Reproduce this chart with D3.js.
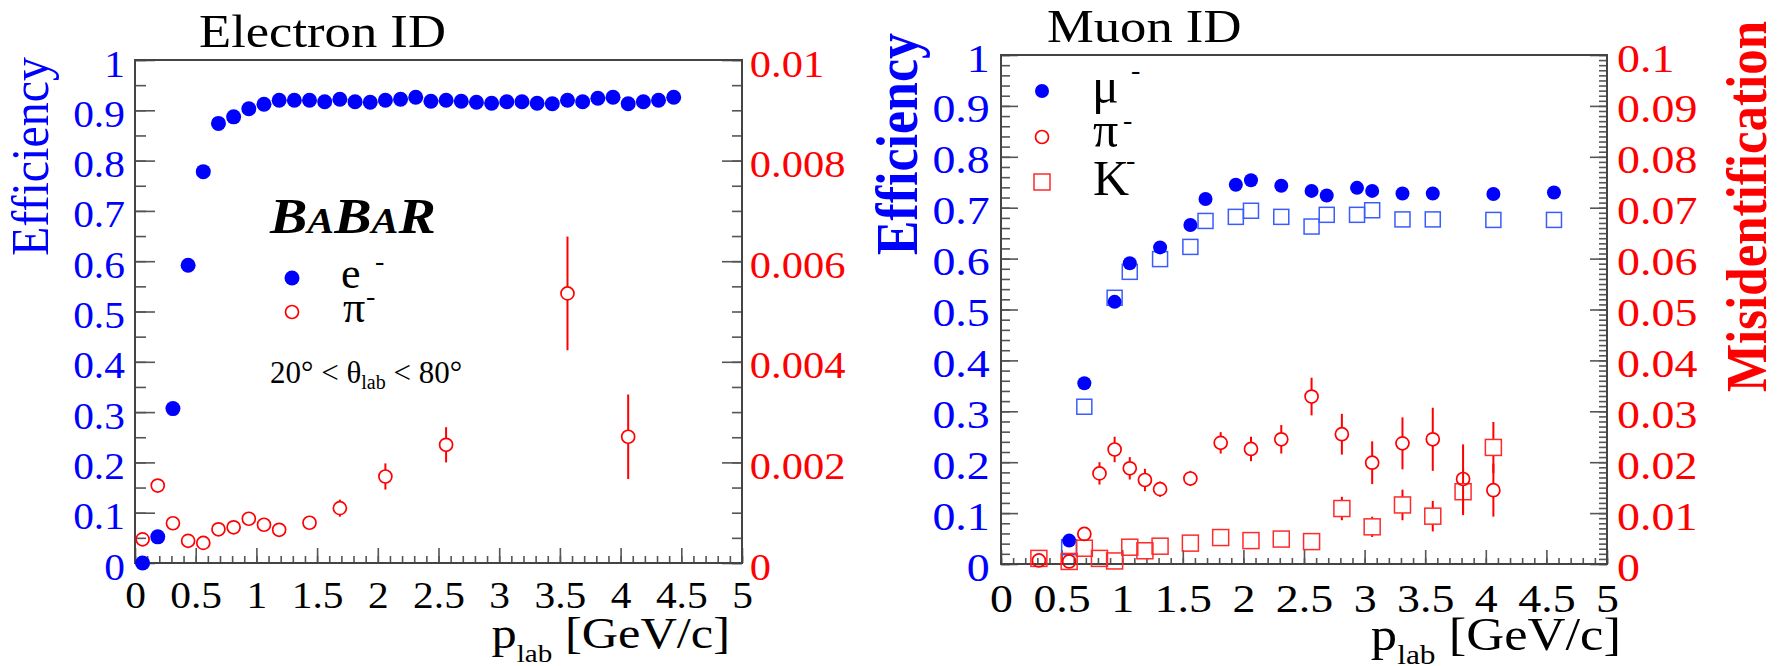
<!DOCTYPE html>
<html>
<head>
<meta charset="utf-8">
<script src="https://cdnjs.cloudflare.com/ajax/libs/d3/7.8.5/d3.min.js"></script>
<style>
    html, body { margin: 0; padding: 0; background: #fff; }
    svg { display: block; }
    text { font-family: "Liberation Serif", "DejaVu Serif", serif; }
</style>
</head>
<body>
<svg id="chart" width="1781" height="666"></svg>
<script>
"use strict";

// ---------- electron ID panel ----------
var eleP = [0.0625, 0.1875, 0.3125, 0.4375, 0.5625, 0.6875, 0.8125, 0.9375, 1.0625, 1.1875,
            1.3125, 1.4375, 1.5625, 1.6875, 1.8125, 1.9375, 2.0625, 2.1875, 2.3125, 2.4375,
            2.5625, 2.6875, 2.8125, 2.9375, 3.0625, 3.1875, 3.3125, 3.4375, 3.5625, 3.6875,
            3.8125, 3.9375, 4.0625, 4.1875, 4.3125, 4.4375];
var eleEff = [0.000, 0.052, 0.307, 0.592, 0.778, 0.874, 0.887, 0.903, 0.912, 0.920,
              0.920, 0.920, 0.917, 0.922, 0.917, 0.916, 0.920, 0.922, 0.926, 0.918,
              0.920, 0.918, 0.916, 0.914, 0.917, 0.917, 0.914, 0.913, 0.920, 0.917,
              0.924, 0.926, 0.913, 0.917, 0.920, 0.926];

var piEleP   = [0.0625, 0.1875, 0.3125, 0.4375, 0.5625, 0.6875, 0.8125, 0.9375, 1.0625, 1.1875,
                1.4375, 1.6875, 2.0625, 2.5625, 3.5625, 4.0625];
var piEleMis = [0.00047, 0.00154, 0.00079, 0.00044, 0.00040, 0.00067, 0.00071, 0.00088, 0.00076, 0.00066,
                0.00080, 0.00109, 0.00172, 0.00235, 0.00536, 0.00251];
var piEleErr = [0.00005, 0.00006, 0.00005, 0.00005, 0.00005, 0.00005, 0.00006, 0.00006, 0.00006, 0.00007,
                0.00008, 0.00017, 0.00026, 0.00035, 0.00113, 0.00084];

// ---------- muon ID panel ----------
var muP      = [0.5625, 0.6875, 0.9375, 1.0625, 1.3125, 1.5625, 1.6875, 1.9375, 2.0625, 2.3125,
                2.5625, 2.6875, 2.9375, 3.0625, 3.3125, 3.5625, 4.0625, 4.5625];
var muEff    = [0.046, 0.355, 0.515, 0.591, 0.622, 0.666, 0.717, 0.745, 0.754, 0.743,
                0.733, 0.724, 0.739, 0.733, 0.728, 0.728, 0.727, 0.730];
var muEffBox = [0.033, 0.309, 0.523, 0.574, 0.599, 0.623, 0.674, 0.682, 0.694, 0.682,
                0.663, 0.686, 0.686, 0.695, 0.677, 0.677, 0.676, 0.676];

var piMuP   = [0.3125, 0.5625, 0.6875, 0.8125, 0.9375, 1.0625, 1.1875, 1.3125, 1.5625, 1.8125,
               2.0625, 2.3125, 2.5625, 2.8125, 3.0625, 3.3125, 3.5625, 3.8125, 4.0625];
var piMuMis = [0.0007, 0.0005, 0.0059, 0.0178, 0.0225, 0.0188, 0.0165, 0.0147, 0.0168, 0.0238,
               0.0226, 0.0245, 0.0329, 0.0255, 0.0199, 0.0237, 0.0245, 0.0167, 0.0145];
var piMuErr = [0.0003, 0.0003, 0.0008, 0.0022, 0.0025, 0.0022, 0.0022, 0.0015, 0.0015, 0.0021,
               0.0024, 0.0028, 0.0037, 0.0040, 0.0042, 0.0051, 0.0062, 0.0068, 0.0052];

var kMuP   = [0.3125, 0.5625, 0.6875, 0.8125, 0.9375, 1.0625, 1.1875, 1.3125, 1.5625, 1.8125,
              2.0625, 2.3125, 2.5625, 2.8125, 3.0625, 3.3125, 3.5625, 3.8125, 4.0625];
var kMuMis = [0.0011, 0.0005, 0.0031, 0.0011, 0.0006, 0.0033, 0.0026, 0.0035, 0.0041, 0.0052,
              0.0046, 0.0049, 0.0044, 0.0109, 0.0073, 0.0116, 0.0094, 0.0142, 0.0229];
var kMuErr = [0.0003, 0.0003, 0.0005, 0.0004, 0.0004, 0.0006, 0.0006, 0.0006, 0.0007, 0.0008,
              0.0008, 0.0009, 0.0009, 0.0023, 0.0020, 0.0030, 0.0030, 0.0046, 0.0050];

// ---------- tick labels ----------
var pTickLabels   = ["0", "0.5", "1", "1.5", "2", "2.5", "3", "3.5", "4", "4.5", "5"];
var effTickLabels = ["0", "0.1", "0.2", "0.3", "0.4", "0.5", "0.6", "0.7", "0.8", "0.9", "1"];
var misEleLabels  = ["0", "0.002", "0.004", "0.006", "0.008", "0.01"];
var misMuLabels   = ["0", "0.01", "0.02", "0.03", "0.04", "0.05", "0.06", "0.07", "0.08", "0.09", "0.1"];

var BLUE = "#0000ff", RED = "#ff0000", FRAME = "#444", TICK = "#555";
var SX = 1.12; // the original picture is a bit wider than tall

var svg = d3.select("#chart");

function styleAxis(sel, color, size, dy) {
    sel.attr("font-family", null).attr("font-size", null);
    sel.select(".domain").remove();
    sel.selectAll("line").attr("stroke", TICK).attr("stroke-width", 1.6);
    if (color === null) {
        sel.selectAll("text").remove(); // minor ticks carry no labels
        return sel;
    }
    sel.selectAll("text")
        .attr("fill", color)
        .attr("font-size", size)
        .attr("transform", "scale(" + SX + ",1)");
    if (dy !== null) {
        sel.selectAll("text").attr("dy", dy);
    }
    return sel;
}

function addAxis(g, axis, tx, ty) {
    return g.append("g").attr("transform", "translate(" + tx + "," + ty + ")").call(axis);
}

function drawPanel(o) {
    var g = svg.append("g");
    var x0 = o.x.range()[0], x1 = o.x.range()[1];
    var yb = o.yEff.range()[0], yt = o.yEff.range()[1];

    // minor ticks first
    styleAxis(addAxis(g, d3.axisBottom(o.x).tickValues(d3.range(0, 5.0001, 0.1)).tickSize(-o.len.xMin), 0, yb), null);
    styleAxis(addAxis(g, d3.axisLeft(o.yEff).tickValues(d3.range(0, 1.0001, o.effMinor)).tickSize(-o.len.lMin), x0, 0), null);
    styleAxis(addAxis(g, d3.axisRight(o.yMis).tickValues(d3.range(0, o.yMis.domain()[1] * 1.0001, o.misMinor)).tickSize(-o.len.rMin), x1, 0), null);

    // major ticks + labels
    styleAxis(addAxis(g, d3.axisBottom(o.x)
        .tickValues(pTickLabels.map(Number))
        .tickFormat(function(d, i) { return pTickLabels[i]; })
        .tickSize(-o.len.xMaj).tickPadding(o.xPad), 0, yb), "#000", o.tickFont, null);

    styleAxis(addAxis(g, d3.axisLeft(o.yEff)
        .tickValues(effTickLabels.map(Number))
        .tickFormat(function(d, i) { return effTickLabels[i]; })
        .tickSize(-o.len.lMaj).tickPadding(o.lPad), x0, 0), BLUE, o.tickFont, 16);

    styleAxis(addAxis(g, d3.axisRight(o.yMis)
        .tickValues(o.misLabels.map(Number))
        .tickFormat(function(d, i) { return o.misLabels[i]; })
        .tickSize(-o.len.rMaj).tickPadding(o.rPad), x1, 0), RED, o.misFont, 16);

    // frame (no ticks on top)
    g.append("rect")
        .attr("x", x0).attr("y", yt)
        .attr("width", x1 - x0).attr("height", yb - yt)
        .attr("fill", "none").attr("stroke", FRAME).attr("stroke-width", 2);

    return g;
}

function errorBars(g, xs, vals, errs, x, y, r, color) {
    var segs = [];
    xs.forEach(function(p, i) {
        var cy = y(vals[i]);
        var top = y(vals[i] + errs[i]);
        var bot = y(Math.max(0, vals[i] - errs[i]));
        if (cy - top > r) { segs.push({ x: x(p), a: top, b: cy - r }); }
        if (bot - cy > r) { segs.push({ x: x(p), a: cy + r, b: bot }); }
    });
    g.append("g").selectAll("line").data(segs).join("line")
        .attr("x1", function(d) { return d.x; }).attr("x2", function(d) { return d.x; })
        .attr("y1", function(d) { return d.a; }).attr("y2", function(d) { return d.b; })
        .attr("stroke", color).attr("stroke-width", 2);
}

function dots(g, xs, vals, x, y, r, color) {
    g.append("g").selectAll("circle").data(xs).join("circle")
        .attr("cx", function(d) { return x(d); })
        .attr("cy", function(d, i) { return y(vals[i]); })
        .attr("r", r).attr("fill", color);
}

function rings(g, xs, vals, x, y, r, color) {
    g.append("g").selectAll("circle").data(xs).join("circle")
        .attr("cx", function(d) { return x(d); })
        .attr("cy", function(d, i) { return y(vals[i]); })
        .attr("r", r).attr("fill", "none").attr("stroke", color).attr("stroke-width", 1.7);
}

function boxes(g, xs, vals, x, y, s, color) {
    g.append("g").selectAll("rect").data(xs).join("rect")
        .attr("x", function(d) { return x(d) - s / 2; })
        .attr("y", function(d, i) { return y(vals[i]) - s / 2; })
        .attr("width", s).attr("height", s)
        .attr("fill", "none").attr("stroke", color).attr("stroke-width", 1.5);
}

function label(x, y, str, size, color, opts) {
    opts = opts || {};
    var t = svg.append("text")
        .attr("transform", "translate(" + x + "," + y + ") scale(" + (opts.sx || 1) + ",1)" + (opts.rot ? " rotate(" + opts.rot + ")" : ""))
        .attr("font-size", size)
        .attr("fill", color)
        .attr("text-anchor", opts.anchor || "start");
    if (opts.bold) { t.attr("font-weight", "bold"); }
    if (opts.italic) { t.attr("font-style", "italic"); }
    if (str !== null) { t.text(str); }
    return t;
}

function pLabel(x, y, size, subSize) {
    var t = label(x, y, null, size, "#000", { sx: SX, anchor: "end" });
    t.append("tspan").text("p");
    t.append("tspan").attr("font-size", subSize).attr("dy", 14).text("lab");
    t.append("tspan").attr("dy", -14).text(" [GeV/c]");
}

// ---------- left: electron ID ----------
var xE = d3.scaleLinear().domain([0, 5]).range([135, 742]);
var yE = d3.scaleLinear().domain([0, 1]).range([563, 60]);
var yEm = d3.scaleLinear().domain([0, 0.01]).range([563, 60]);

var gE = drawPanel({
    x: xE, yEff: yE, yMis: yEm, misLabels: misEleLabels,
    effMinor: 0.05, misMinor: 0.0005,
    len: { xMaj: 15, xMin: 7, lMaj: 20, lMin: 11, rMaj: 20, rMin: 10 },
    xPad: 19, lPad: 9, rPad: 7, tickFont: 37, misFont: 38
});

errorBars(gE, piEleP, piEleMis, piEleErr, xE, yEm, 6.5, RED);
rings(gE, piEleP, piEleMis, xE, yEm, 6.5, RED);
dots(gE, eleP, eleEff, xE, yE, 7.5, BLUE);

label(199, 47, "Electron ID", 47, "#000", { sx: SX });
label(48, 57, "Efficiency", 48, BLUE, { sx: SX, rot: -90, anchor: "end" });
pLabel(730, 648, 45, 26);

var babar = label(270, 233, null, 50, "#000", { sx: SX, bold: true, italic: true });
babar.append("tspan").text("B");
babar.append("tspan").attr("font-size", 36).text("A");
babar.append("tspan").text("B");
babar.append("tspan").attr("font-size", 36).text("A");
babar.append("tspan").text("R");

svg.append("circle").attr("cx", 292).attr("cy", 278).attr("r", 7.5).attr("fill", BLUE);
label(341, 288, "e", 44, "#000");
label(375, 270, "-", 28, "#000");
svg.append("circle").attr("cx", 292).attr("cy", 312).attr("r", 6.5)
    .attr("fill", "none").attr("stroke", RED).attr("stroke-width", 1.7);
label(343, 322, "\u03c0", 44, "#000");
label(366, 305, "-", 28, "#000");

var cut = label(270, 383, null, 31, "#000");
cut.append("tspan").text("20\u00b0 < \u03b8");
cut.append("tspan").attr("font-size", 20).attr("dy", 6).text("lab");
cut.append("tspan").attr("dy", -6).text(" < 80\u00b0");

// ---------- right: muon ID ----------
var xM = d3.scaleLinear().domain([0, 5]).range([1001, 1607]);
var yM = d3.scaleLinear().domain([0, 1]).range([564, 55]);
var yMm = d3.scaleLinear().domain([0, 0.1]).range([564, 55]);

var gM = drawPanel({
    x: xM, yEff: yM, yMis: yMm, misLabels: misMuLabels,
    effMinor: 0.02, misMinor: 0.001,
    len: { xMaj: 14, xMin: 6, lMaj: 17, lMin: 9, rMaj: 17, rMin: 8 },
    xPad: 19, lPad: 10, rPad: 9, tickFont: 41, misFont: 41
});

boxes(gM, muP, muEffBox, xM, yM, 15, "#3a5cff");
dots(gM, muP, muEff, xM, yM, 7, BLUE);
errorBars(gM, kMuP, kMuMis, kMuErr, xM, yMm, 8, RED);
boxes(gM, kMuP, kMuMis, xM, yMm, 16, "#ff2a2a");
errorBars(gM, piMuP, piMuMis, piMuErr, xM, yMm, 6.5, RED);
rings(gM, piMuP, piMuMis, xM, yMm, 6.5, RED);

label(1047, 42, "Muon ID", 47, "#000", { sx: SX });
label(917, 33, "Efficiency", 52, BLUE, { sx: SX, rot: -90, anchor: "end", bold: true });
label(1766, 21, "Misidentification", 51, RED, { sx: SX, rot: -90, anchor: "end", bold: true });
pLabel(1621, 650, 47, 28);

svg.append("circle").attr("cx", 1042).attr("cy", 91).attr("r", 7).attr("fill", BLUE);
label(1092, 103, "\u03bc", 50, "#000");
label(1131, 79, "-", 28, "#000");
svg.append("circle").attr("cx", 1042).attr("cy", 137).attr("r", 6.5)
    .attr("fill", "none").attr("stroke", RED).attr("stroke-width", 1.7);
label(1093, 147, "\u03c0", 50, "#000");
label(1123, 129, "-", 28, "#000");
svg.append("rect").attr("x", 1034).attr("y", 174).attr("width", 16).attr("height", 16)
    .attr("fill", "none").attr("stroke", "#ff2a2a").attr("stroke-width", 1.5);
label(1093, 195, "K", 50, "#000");
label(1126, 169, "-", 28, "#000");
</script>
</body>
</html>
